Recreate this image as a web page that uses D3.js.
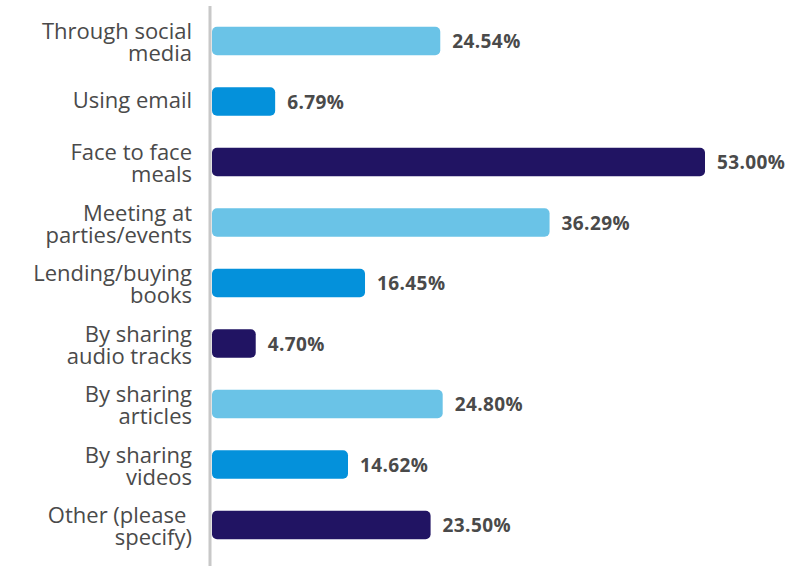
<!DOCTYPE html>
<html>
<head>
<meta charset="utf-8">
<script src="https://cdn.jsdelivr.net/npm/d3@7"></script>
<style>
  html, body { margin: 0; padding: 0; background: #fff; }
  svg { display: block; }
</style>
</head>
<body>
<svg id="chart" width="809" height="566"></svg>
<script>
const categories = [
  ["Through social", "media"],
  ["Using email"],
  ["Face to face", "meals"],
  ["Meeting at", "parties/events"],
  ["Lending/buying", "books"],
  ["By sharing", "audio tracks"],
  ["By sharing", "articles"],
  ["By sharing", "videos"],
  ["Other (please\u00a0", "specify)"]
];
const values = [24.54, 6.79, 53.00, 36.29, 16.45, 4.70, 24.80, 14.62, 23.50];
const valueLabels = ["24.54%", "6.79%", "53.00%", "36.29%", "16.45%", "4.70%", "24.80%", "14.62%", "23.50%"];
const barColors = ["#6ac3e7", "#0491db", "#211463"];

const svg = d3.select("#chart");
const idx = d3.range(values.length);

const x = d3.scaleLinear().domain([0, 53]).range([212, 705]);
const y = d3.scaleBand().domain(idx).range([10.75, 555.25]).paddingInner(0.53).paddingOuter(0.265);

// bars
svg.append("g").selectAll("rect").data(idx).join("rect")
  .attr("x", x(0))
  .attr("y", i => y(i))
  .attr("width", i => x(values[i]) - x(0))
  .attr("height", y.bandwidth())
  .attr("rx", 5).attr("ry", 5)
  .attr("fill", i => barColors[i % 3]);

// axis line
svg.append("line")
  .attr("x1", 210).attr("x2", 210)
  .attr("y1", 6).attr("y2", 566)
  .attr("stroke", "#c8c8c8").attr("stroke-width", 3);

// category labels
const lab = svg.append("g").selectAll("text").data(idx).join("text")
  .attr("text-anchor", "end")
  .attr("font-family", "'Open Sans', sans-serif")
  .attr("font-size", 22)
  .attr("fill", "#4a4a4a");
lab.each(function(i) {
  const t = d3.select(this);
  const cy = y(i) + y.bandwidth() / 2;
  const lines = categories[i];
  const base = lines.length === 1 ? cy + 6 : cy - 2;
  lines.forEach((ln, k) => {
    t.append("tspan").attr("x", 192).attr("y", base + k * 22).text(ln);
  });
});

// value labels
svg.append("g").selectAll("text").data(idx).join("text")
  .attr("x", i => x(values[i]) + 12)
  .attr("y", i => y(i) + y.bandwidth() / 2 + 7)
  .attr("font-family", "'Open Sans', sans-serif")
  .attr("font-weight", "bold")
  .attr("font-size", 19)
  .attr("letter-spacing", 0.4)
  .attr("fill", "#4a4a4a")
  .text(i => valueLabels[i]);
</script>
</body>
</html>
